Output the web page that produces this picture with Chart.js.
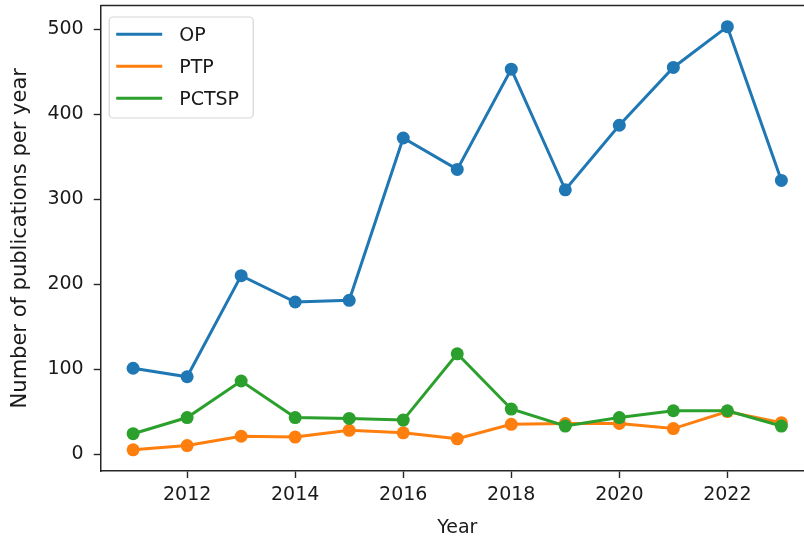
<!DOCTYPE html>
<html>
<head>
<meta charset="utf-8">
<script src="https://cdn.jsdelivr.net/npm/chart.js@4"></script>
<style>
  html, body { margin: 0; padding: 0; overflow: hidden; background: #fff; }
  canvas { display: block; }
</style>
</head>
<body>
<canvas id="pubgraph" width="816" height="537"></canvas>
<script>
var pubctx = document.getElementById("pubgraph");

let years = [2011, 2012, 2013, 2014, 2015, 2016, 2017, 2018, 2019, 2020, 2021, 2022, 2023];
let op    = [101, 91, 210, 179, 181, 372, 335, 453, 311, 387, 455, 503, 322];
let ptp   = [5, 10, 21, 20, 28, 25, 18, 35, 36, 36, 30, 50, 37];
let pctsp = [24, 43, 86, 43, 42, 40, 118, 53, 33, 43, 51, 51, 33];

let xTicks = [2012, 2014, 2016, 2018, 2020, 2022];
let yTicks = [0, 100, 200, 300, 400, 500];

const FONT = "'DejaVu Sans', sans-serif";
const TXT = "#1a1a1a";

function pts(vals) {
    return vals.map((v, i) => ({ x: years[i], y: v }));
}

// top + right spines, and the boxed legend in the upper left
const frame = {
    id: "frame",
    afterDatasetsDraw(chart) {
        const a = chart.chartArea;
        const c = chart.ctx;
        c.save();
        c.strokeStyle = "#262626";
        c.lineWidth = 1.5;
        c.beginPath();
        c.moveTo(a.left, a.top);
        c.lineTo(a.right, a.top);
        c.lineTo(a.right, a.bottom);
        c.stroke();

        // legend
        const lx = a.left + 8.5, ly = a.top + 11.5, lw = 144, lh = 101;
        c.fillStyle = "rgba(255,255,255,0.8)";
        c.strokeStyle = "#d6d6d6";
        c.lineWidth = 1.2;
        c.beginPath();
        c.roundRect(lx, ly, lw, lh, 4);
        c.fill();
        c.stroke();
        c.font = "19px " + FONT;
        c.textBaseline = "middle";
        c.textAlign = "left";
        chart.data.datasets.forEach((ds, i) => {
            const y = a.top + 28.8 + i * 32;
            c.strokeStyle = ds.borderColor;
            c.lineWidth = 3;
            c.beginPath();
            c.moveTo(a.left + 15.5, y);
            c.lineTo(a.left + 61.5, y);
            c.stroke();
            c.fillStyle = TXT;
            c.fillText(ds.label, a.left + 78.5, y + 1.5);
        });
        c.restore();
    }
};

function mkSet(label, vals, color, order) {
    return {
        label: label,
        data: pts(vals),
        borderColor: color,
        backgroundColor: color,
        pointBackgroundColor: color,
        pointBorderColor: color,
        pointRadius: 6.5,
        pointBorderWidth: 0,
        borderWidth: 3,
        fill: false,
        order: order
    };
}

var pubchart = new Chart(pubctx, {
    type: "line",
    data: {
        datasets: [
            mkSet("OP", op, "#1f77b4", 2),
            mkSet("PTP", ptp, "#ff7f0e", 1),
            mkSet("PCTSP", pctsp, "#2ca02c", 0)
        ]
    },
    options: {
        responsive: false,
        animation: false,
        devicePixelRatio: 1,
        // canvas is a bit wider than the window: the right spine falls just off-screen
        layout: { autoPadding: false, padding: { left: 0, top: 5.5, right: 2.2, bottom: 0 } },
        plugins: {
            legend: { display: false },
            tooltip: { enabled: false }
        },
        scales: {
            x: {
                type: "linear",
                min: 2010.4,
                max: 2023.6,
                afterBuildTicks: s => { s.ticks = xTicks.map(v => ({ value: v })); },
                afterFit: s => { s.height = 66; s.paddingLeft = 0; s.paddingRight = 0; },
                grid: { drawOnChartArea: false, drawTicks: true, tickLength: 7, tickColor: "#262626", tickWidth: 1.4 },
                border: { display: true, color: "#262626", width: 1.5 },
                ticks: { color: TXT, font: { family: FONT, size: 19 }, padding: 6, maxRotation: 0,
                         callback: v => String(v) },
                title: { display: true, text: "Year", color: TXT,
                         font: { family: FONT, size: 19, lineHeight: 1 }, padding: { top: 0, bottom: -1 } }
            },
            y: {
                min: -19.9,
                max: 527.9,
                afterBuildTicks: s => { s.ticks = yTicks.map(v => ({ value: v })); },
                afterFit: s => { s.width = 100.7; s.paddingTop = 0; s.paddingBottom = 0; },
                grid: { drawOnChartArea: false, drawTicks: true, tickLength: 7, tickColor: "#262626", tickWidth: 1.4 },
                border: { display: true, color: "#262626", width: 1.5 },
                ticks: { color: TXT, font: { family: FONT, size: 19 }, padding: 10,
                         callback: v => String(v) },
                title: { display: true, text: "Number of publications per year", color: TXT,
                         font: { family: FONT, size: 21, lineHeight: 1 }, padding: { top: 10, bottom: 0 } }
            }
        }
    },
    plugins: [frame]
});
</script>
</body>
</html>
